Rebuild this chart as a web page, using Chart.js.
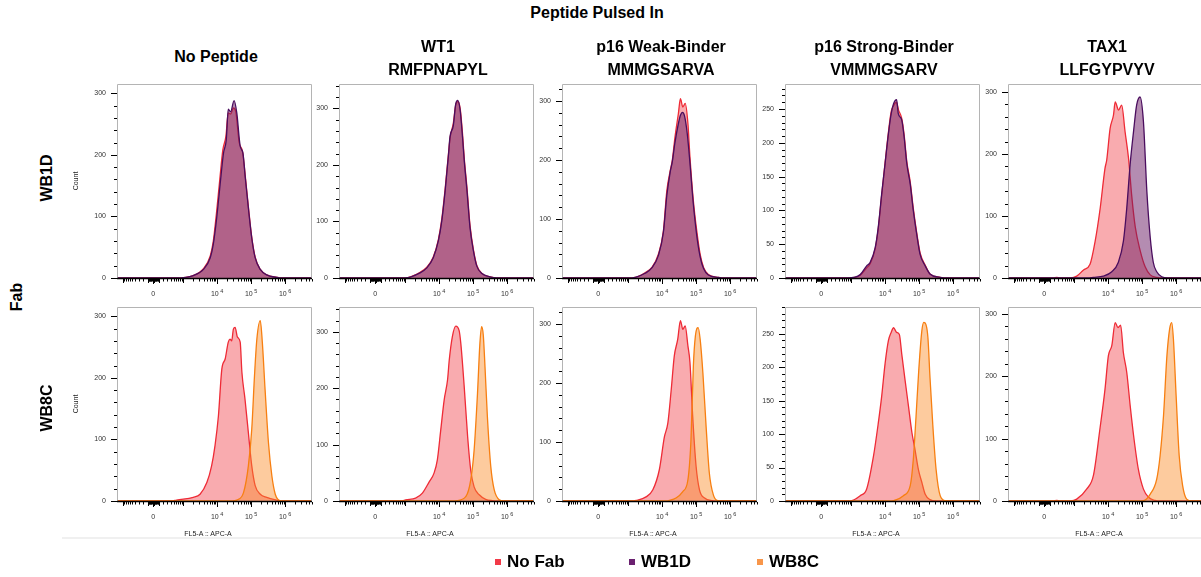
<!DOCTYPE html>
<html lang="en">
<head>
<meta charset="UTF-8">
<title>Peptide Pulsed In – Fab staining histograms</title>
<script src="https://cdn.jsdelivr.net/npm/chart.js@4"></script>
<style>
  html, body { margin: 0; padding: 0; background: #fff; }
  body { width: 1201px; height: 577px; overflow: hidden; position: relative;
         font-family: "Liberation Sans", Arial, sans-serif; color: #000; }
  .t { position: absolute; transform: translate(-50%, -50%); white-space: nowrap; font-weight: bold; font-size: 16px; }
  .rot { transform: translate(-50%, -50%) rotate(-90deg); }
  .xl { position: absolute; transform: translate(-50%, -50%); font-size: 7px; color: #222; white-space: nowrap; }
  .sw { position: absolute; width: 6px; height: 6px; }
  .lg { position: absolute; font-weight: bold; font-size: 17px; transform: translateY(-50%); white-space: nowrap; }
  .sep { position: absolute; background: #f0f0f0; }
</style>
</head>
<body>
<script>
  // column / row labels
  const peptides = ['No Peptide', 'WT1', 'p16 Weak-Binder', 'p16 Strong-Binder', 'TAX1'];
  const sequences = ['', 'RMFPNAPYL', 'MMMGSARVA', 'VMMMGSARV', 'LLFGYPVYV'];
  const fabRows = ['WB1D', 'WB8C'];
  const seriesNames = ['No Fab', 'WB1D', 'WB8C'];

  // x axis: logicle display; labelled ticks (base, exponent)
  const xTickValues = [0, 1e4, 1e5, 1e6];
  const xTickLabels = [['0', ''], ['10', '4'], ['10', '5'], ['10', '6']];

  // y axis range per panel (row WB1D, row WB8C) and label step
  const yMaxWB1D = [315, 343, 329, 287, 313];
  const yMaxWB8C = [315, 344, 329, 290, 311];
  const yStep = [100, 100, 100, 50, 100];

  // histograms: [display position (decades), count]
  // row WB1D
  const noFabA1 = [[2.8,0],[3.3,4],[3.6,15],[3.8,36],[3.89,60],[3.98,104],[4.08,160],[4.17,208],[4.26,230],[4.33,268],[4.40,266],[4.48,276],[4.55,270],[4.65,220],[4.75,205],[4.83,165],[4.92,116],[5.02,66],[5.12,34],[5.27,14],[5.46,5],[5.76,1],[5.9,0]];
  const wb1d1   = [[2.8,0],[3.3,4],[3.6,14],[3.8,33],[3.89,55],[3.99,98],[4.09,152],[4.19,203],[4.27,224],[4.33,274],[4.40,270],[4.50,288],[4.58,268],[4.68,214],[4.76,203],[4.83,163],[4.92,114],[5.02,65],[5.12,33],[5.27,14],[5.46,5],[5.76,1],[5.9,0]];
  const noFabA2 = [[3.0,0],[3.44,10],[3.64,19],[3.83,37],[3.98,68],[4.08,104],[4.18,158],[4.28,222],[4.33,250],[4.42,274],[4.49,306],[4.55,312],[4.62,300],[4.69,255],[4.74,212],[4.82,160],[4.91,93],[5.01,50],[5.11,22],[5.26,8],[5.5,2],[5.7,0]];
  const wb1d2   = [[3.0,0],[3.44,9],[3.64,18],[3.83,36],[3.98,66],[4.08,101],[4.18,155],[4.28,220],[4.32,249],[4.42,270],[4.49,308],[4.55,314],[4.62,297],[4.69,249],[4.74,208],[4.82,155],[4.91,89],[5.01,48],[5.11,21],[5.26,8],[5.5,2],[5.7,0]];
  const noFabA3 = [[3.0,0],[3.21,1],[3.50,9],[3.70,18],[3.89,40],[4.04,80],[4.14,148],[4.24,182],[4.30,199],[4.38,239],[4.48,279],[4.54,304],[4.61,290],[4.68,296],[4.76,262],[4.82,205],[4.92,131],[5.02,80],[5.12,40],[5.22,18],[5.36,6],[5.66,1],[5.8,0]];
  const wb1d3   = [[3.0,0],[3.21,1],[3.50,8],[3.70,17],[3.89,38],[4.04,78],[4.14,140],[4.24,180],[4.30,197],[4.38,230],[4.48,262],[4.54,276],[4.60,281],[4.66,275],[4.74,245],[4.82,195],[4.92,125],[5.02,72],[5.12,36],[5.22,16],[5.36,5],[5.66,1],[5.8,0]];
  const noFabA4 = [[2.9,0],[3.27,4],[3.46,15],[3.56,21],[3.71,43],[3.80,73],[3.90,122],[4.00,170],[4.10,216],[4.18,246],[4.25,255],[4.33,260],[4.40,248],[4.49,236],[4.56,212],[4.64,172],[4.74,142],[4.83,103],[4.93,67],[5.03,37],[5.18,19],[5.32,6],[5.62,1],[5.8,0]];
  const wb1d4   = [[2.9,0],[3.27,5],[3.46,18],[3.56,23],[3.71,45],[3.80,75],[3.90,124],[4.00,169],[4.10,214],[4.18,243],[4.25,258],[4.34,264],[4.39,243],[4.49,234],[4.56,209],[4.64,169],[4.74,139],[4.83,100],[4.93,65],[5.03,35],[5.18,18],[5.32,6],[5.62,1],[5.8,0]];
  const noFabA5 = [[2.4,0],[2.49,1],[2.6,0],[2.9,0],[3.08,3],[3.28,13],[3.47,22],[3.62,59],[3.77,113],[3.91,177],[3.96,190],[4.06,241],[4.16,263],[4.21,284],[4.31,271],[4.40,279],[4.50,236],[4.60,194],[4.70,130],[4.80,82],[4.94,45],[5.09,18],[5.24,5],[5.43,1],[5.6,0]];
  const wb1d5   = [[3.4,0],[3.57,1],[3.86,3],[4.11,10],[4.30,25],[4.45,59],[4.55,113],[4.65,184],[4.75,237],[4.84,279],[4.94,292],[5.04,252],[5.14,140],[5.24,65],[5.33,25],[5.43,10],[5.58,2],[5.75,0]];
  // row WB8C
  const noFabB1 = [[2.7,0],[2.81,1.5],[3.30,6],[3.50,11],[3.70,30],[3.84,57],[3.94,90],[4.04,138],[4.14,214],[4.24,231],[4.33,258],[4.38,263],[4.43,260],[4.48,279],[4.53,282],[4.60,266],[4.68,258],[4.73,209],[4.82,166],[4.92,111],[5.02,57],[5.12,25],[5.27,11],[5.46,6],[5.76,1.5],[5.9,0]];
  const wb8c1   = [[4.45,0],[4.58,1.5],[4.78,14],[4.92,57],[5.02,117],[5.10,203],[5.17,263],[5.27,293],[5.33,258],[5.41,182],[5.51,95],[5.61,41],[5.71,11],[5.80,2],[5.9,0]];
  const noFabB2 = [[2.9,0],[3.02,2],[3.31,5],[3.51,14],[3.71,34],[3.85,49],[3.95,73],[4.05,126],[4.15,179],[4.25,215],[4.30,250],[4.39,291],[4.49,310],[4.59,302],[4.64,279],[4.74,202],[4.84,114],[4.93,55],[5.03,25],[5.18,11],[5.37,3],[5.57,0.6],[5.7,0]];
  const wb8c2   = [[4.4,0],[4.54,0.6],[4.79,8],[4.93,37],[5.03,90],[5.13,191],[5.20,279],[5.25,309],[5.30,294],[5.35,238],[5.42,150],[5.52,61],[5.62,20],[5.77,2],[5.9,0]];
  const noFabB3 = [[3.1,0],[3.24,1],[3.53,7],[3.73,19],[3.92,53],[4.07,109],[4.17,132],[4.27,189],[4.36,246],[4.46,274],[4.54,306],[4.61,291],[4.68,297],[4.76,263],[4.82,235],[4.90,144],[5.00,59],[5.10,19],[5.25,5],[5.49,0.6],[5.6,0]];
  const wb8c3   = [[4.1,0],[4.22,1],[4.41,5],[4.61,16],[4.76,36],[4.85,104],[4.92,229],[4.98,280],[5.06,294],[5.12,274],[5.20,217],[5.30,121],[5.39,47],[5.51,10],[5.64,0.6],[5.75,0]];
  const noFabB4 = [[2.9,0],[3.02,0.5],[3.27,8],[3.46,18],[3.66,67],[3.80,116],[3.90,156],[4.00,205],[4.10,240],[4.18,252],[4.25,259],[4.34,252],[4.42,249],[4.49,220],[4.59,180],[4.69,141],[4.79,102],[4.88,77],[4.98,47],[5.08,28],[5.18,10],[5.32,2],[5.5,0]];
  const wb8c4   = [[4.1,0],[4.25,0.5],[4.54,8],[4.74,23],[4.83,62],[4.91,126],[4.99,195],[5.08,254],[5.14,267],[5.20,264],[5.26,244],[5.32,185],[5.40,116],[5.50,47],[5.62,8],[5.77,0.5],[5.9,0]];
  const noFabB5 = [[2.4,0],[2.49,1],[2.6,0],[2.9,0],[3.08,3],[3.37,19],[3.57,41],[3.76,115],[3.91,179],[4.01,233],[4.11,249],[4.21,286],[4.29,278],[4.37,282],[4.45,238],[4.55,206],[4.65,153],[4.75,105],[4.89,51],[5.04,19],[5.19,6],[5.38,1],[5.5,0]];
  const wb8c5   = [[4.9,0],[5.04,0.5],[5.24,11],[5.43,35],[5.53,73],[5.63,137],[5.73,233],[5.81,276],[5.87,286],[5.92,260],[6.00,169],[6.09,73],[6.19,25],[6.31,3],[6.46,0]];

  const X_MIN = 1.06, X_MAX = 6.79;
  const LOGICLE_W = 132;
  // biexponential display transform used for axis ticks
  function biex(v) { return Math.log10(LOGICLE_W) + Math.asinh(v / (2 * LOGICLE_W)) / Math.LN10; }

  const colors = {
    'No Fab': { line: '#ee2b36', fill: 'rgba(240,45,55,0.4)', key: '#f23a48' },
    'WB1D':   { line: '#4a0d5e', fill: 'rgba(105,25,100,0.5)', key: '#6b2070' },
    'WB8C':   { line: '#f77f11', fill: 'rgba(250,140,40,0.45)', key: '#f8964a' }
  };

  const colLeft = [117, 339, 562, 785, 1008];
  const rowTop = [84, 307];
  const FONT = '"Liberation Sans", Arial, sans-serif';

  // tick marks for logicle axis
  const xMarks = [];
  xTickValues.forEach(v => xMarks.push({ d: biex(v), len: 5 }));
  for (let k = 1; k <= 6; k++) {
    for (let m = 1; m <= 9; m++) {
      for (const s of [1, -1]) {
        const d = biex(s * m * Math.pow(10, k));
        if (d >= X_MIN && d <= X_MAX) xMarks.push({ d, len: m === 1 ? 4 : 2.5 });
      }
    }
  }

  // frame, tick marks and tick labels
  const frameTicks = {
    id: 'frameTicks',
    afterDraw(chart, args, opts) {
      const { ctx, chartArea: a, scales: { x, y } } = chart;
      ctx.save();
      ctx.strokeStyle = '#b4b4b4';
      ctx.lineWidth = 1;
      ctx.beginPath();
      ctx.moveTo(a.left + 0.5, a.bottom);
      ctx.lineTo(a.left + 0.5, a.top + 0.5);
      ctx.lineTo(a.right - 0.5, a.top + 0.5);
      ctx.lineTo(a.right - 0.5, a.bottom);
      ctx.stroke();
      ctx.strokeStyle = '#000';
      ctx.lineWidth = 1.6;
      ctx.beginPath();
      ctx.moveTo(a.left, a.bottom + 0.5);
      ctx.lineTo(a.right, a.bottom + 0.5);
      ctx.stroke();
      ctx.lineWidth = 1;
      ctx.beginPath();
      xMarks.forEach(t => {
        const px = Math.round(x.getPixelForValue(t.d)) + 0.5;
        ctx.moveTo(px, a.bottom + 1);
        ctx.lineTo(px, a.bottom + 1 + t.len);
      });
      const step = opts.step / 5;
      for (let v = 0; v <= y.max; v += step) {
        const py = Math.round(y.getPixelForValue(v)) + 0.5;
        const major = Math.abs(v / opts.step - Math.round(v / opts.step)) < 1e-6;
        ctx.moveTo(a.left, py);
        ctx.lineTo(a.left - (major ? 6 : 3), py);
      }
      ctx.stroke();

      ctx.fillStyle = '#333';
      ctx.font = '7px ' + FONT;
      ctx.textAlign = 'right';
      ctx.textBaseline = 'middle';
      y.ticks.forEach(t => {
        if (t.value % opts.step === 0) ctx.fillText(String(t.value), a.left - 11, y.getPixelForValue(t.value));
      });

      ctx.textBaseline = 'alphabetic';
      ctx.textAlign = 'left';
      xTickValues.forEach((v, i) => {
        const px = x.getPixelForValue(biex(v));
        const [base, exp] = xTickLabels[i];
        ctx.font = '7px ' + FONT;
        const wb = ctx.measureText(base).width;
        ctx.font = '5.5px ' + FONT;
        const we = exp ? ctx.measureText(exp).width + 1.5 : 0;
        const x0 = px - (wb + we) / 2;
        ctx.font = '7px ' + FONT;
        ctx.fillText(base, x0, a.bottom + 18);
        if (exp) {
          ctx.font = '5.5px ' + FONT;
          ctx.fillText(exp, x0 + wb + 1.5, a.bottom + 15);
        }
      });
      ctx.restore();
    }
  };

  Chart.defaults.font.family = FONT;

  function toPoints(arr) {
    const pts = arr.map(p => ({ x: p[0], y: p[1] }));
    pts.unshift({ x: X_MIN, y: 0 });
    pts.push({ x: X_MAX, y: 0 });
    return pts;
  }

  function panel(row, col, sets, ymax) {
    const L = colLeft[col], T = rowTop[row];
    const c = document.createElement('canvas');
    c.width = 246; c.height = 228;
    c.style.cssText = `position:absolute;left:${L - 45}px;top:${T - 6}px;width:246px;height:228px`;
    document.body.appendChild(c);
    const step = yStep[col];
    new Chart(c, {
      type: 'line',
      data: {
        datasets: sets.map(s => ({
          label: s.name,
          data: toPoints(s.data),
          borderColor: colors[s.name].line,
          backgroundColor: colors[s.name].fill,
          borderWidth: 1.3,
          fill: 'origin',
          pointRadius: 0,
          cubicInterpolationMode: 'monotone'
        }))
      },
      options: {
        responsive: false,
        animation: false,
        devicePixelRatio: 1,
        layout: { padding: { top: 6, right: 6, left: 0, bottom: 0 } },
        plugins: { legend: { display: false }, tooltip: { enabled: false }, frameTicks: { step } },
        scales: {
          x: {
            type: 'linear', min: X_MIN, max: X_MAX,
            afterFit: s => { s.height = 28; },
            ticks: { display: false },
            grid: { display: false, drawTicks: false },
            border: { display: false }
          },
          y: {
            min: 0, max: ymax,
            afterFit: s => { s.width = 45; },
            ticks: { display: false, stepSize: step, includeBounds: false },
            grid: { display: false, drawTicks: false },
            border: { display: false },
            title: { display: col === 0, text: 'Count', font: { size: 7 }, color: '#222', padding: 0 }
          }
        }
      },
      plugins: [frameTicks]
    });
  }

  const rowA = [[wb1d1, noFabA1], [wb1d2, noFabA2], [wb1d3, noFabA3], [wb1d4, noFabA4], [wb1d5, noFabA5]];
  const rowB = [[wb8c1, noFabB1], [wb8c2, noFabB2], [wb8c3, noFabB3], [wb8c4, noFabB4], [wb8c5, noFabB5]];

  rowA.forEach((p, i) => panel(0, i, [{ name: 'WB1D', data: p[0] }, { name: 'No Fab', data: p[1] }], yMaxWB1D[i]));
  rowB.forEach((p, i) => panel(1, i, [{ name: 'WB8C', data: p[0] }, { name: 'No Fab', data: p[1] }], yMaxWB8C[i]));

  // text
  function txt(cls, s, x, y) {
    const d = document.createElement('div');
    d.className = cls;
    d.textContent = s;
    d.style.left = x + 'px';
    d.style.top = y + 'px';
    document.body.appendChild(d);
    return d;
  }

  const sep = document.createElement('div');
  sep.className = 'sep';
  Object.assign(sep.style, { left: '62px', top: '537px', width: '1139px', height: '2px' });
  document.body.appendChild(sep);

  txt('t', 'Peptide Pulsed In', 597, 13);
  peptides.forEach((p, i) => {
    const cx = colLeft[i] + 99;
    if (sequences[i]) {
      txt('t', p, cx, 47);
      txt('t', sequences[i], cx, 70);
    } else {
      txt('t', p, cx, 57);
    }
    txt('xl', 'FL5-A :: APC-A', colLeft[i] + 91, 533);
  });
  txt('t rot', fabRows[0], 47, 178);
  txt('t rot', fabRows[1], 47, 408);
  txt('t rot', 'Fab', 17, 297);

  // legend
  const legendX = [495, 629, 757];
  seriesNames.forEach((n, i) => {
    const sw = document.createElement('div');
    sw.className = 'sw';
    Object.assign(sw.style, { left: legendX[i] + 'px', top: '559px', background: colors[n].key });
    document.body.appendChild(sw);
    txt('lg', n, legendX[i] + 12, 562);
  });
</script>
</body>
</html>
